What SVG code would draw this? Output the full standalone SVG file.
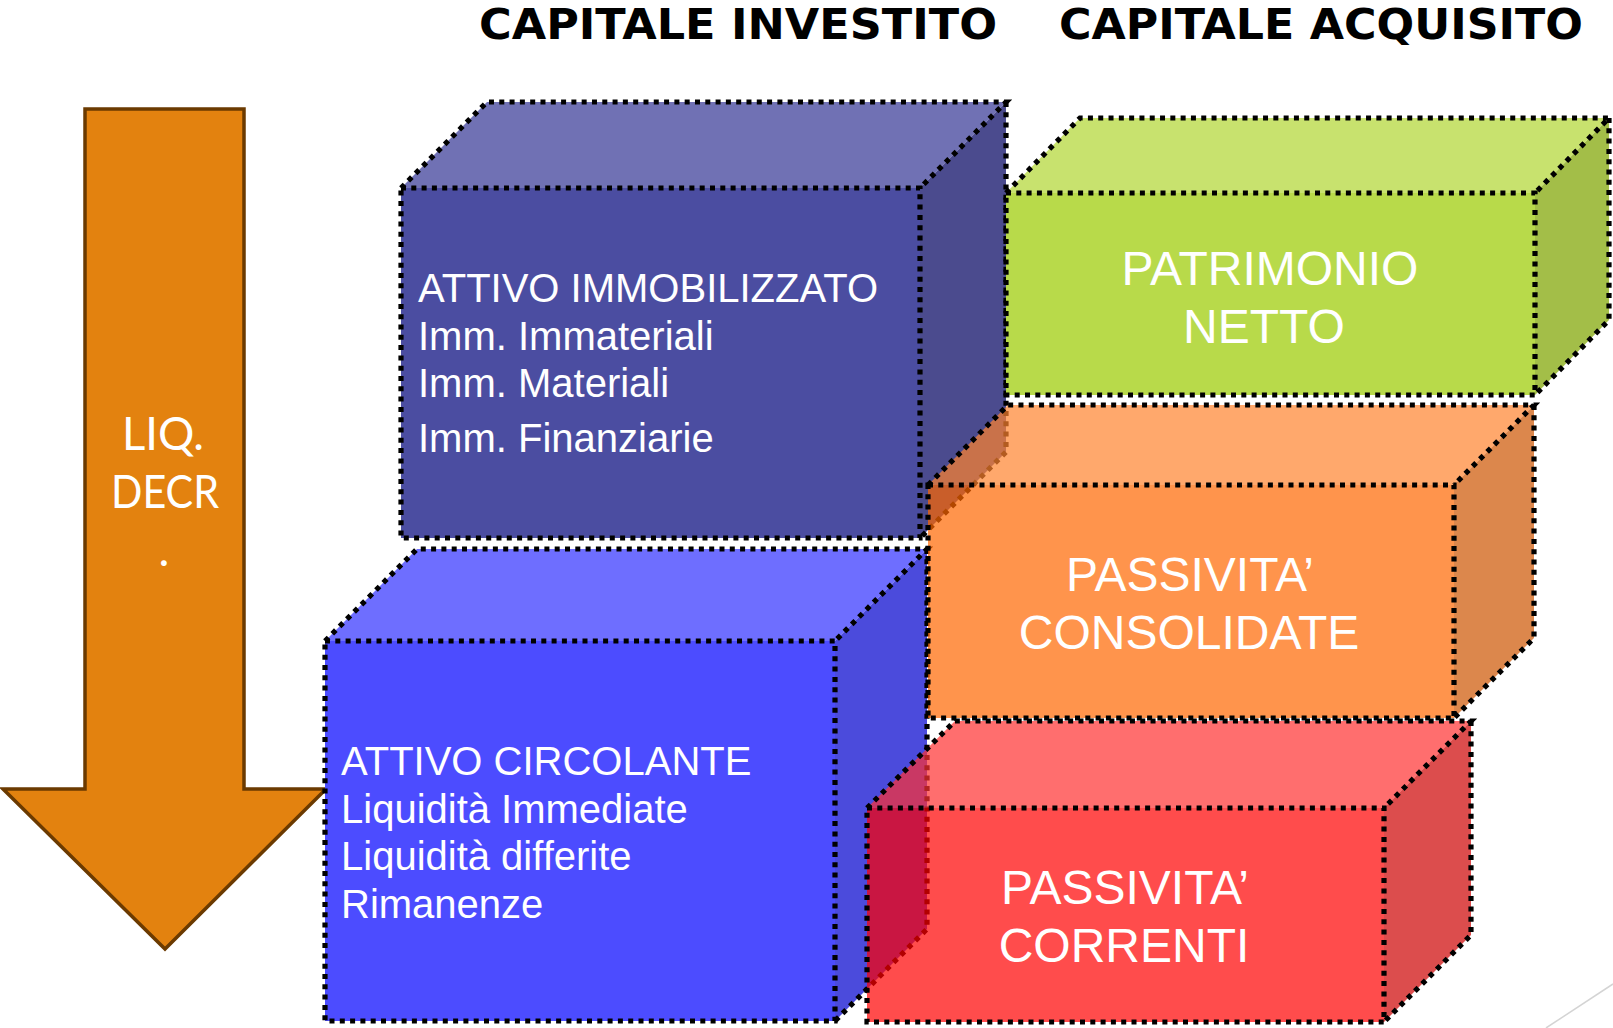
<svg xmlns="http://www.w3.org/2000/svg" width="1613" height="1028" viewBox="0 0 1613 1028">
  <defs>
    <style>
      .edge { fill: none; stroke: #000; stroke-width: 5.2; stroke-dasharray: 5 5.3; stroke-linejoin: miter; }
      .title { font-family: "DejaVu Sans", Verdana, sans-serif; font-weight: bold; font-size: 42px; fill: #000; }
      .lbl { font-family: "Liberation Sans", Arial, sans-serif; font-size: 40px; fill: #fff; }
      .big { font-family: "Liberation Sans", Arial, sans-serif; font-size: 48px; fill: #fff; text-anchor: middle; }
      .arrowtxt { font-family: Lato, "Open Sans", sans-serif; font-size: 46px; fill: #fff; text-anchor: middle; }
    </style>
  </defs>
  <rect width="1613" height="1028" fill="#fff"/>

  <text class="title" x="479" y="39" textLength="518" lengthAdjust="spacingAndGlyphs">CAPITALE INVESTITO</text>
  <text class="title" x="1059" y="39" textLength="524" lengthAdjust="spacingAndGlyphs">CAPITALE ACQUISITO</text>

  <g id="arrow-liquidita">
    <polygon points="85,109 244,109 244,789 326,789 165,949 3,789 85,789" fill="#E3820F" stroke="#6B3A00" stroke-width="3.5" stroke-linejoin="miter"/>
    <text class="arrowtxt" x="163" y="450" textLength="82" lengthAdjust="spacingAndGlyphs">LIQ.</text>
    <text class="arrowtxt" x="165" y="508" textLength="108" lengthAdjust="spacingAndGlyphs">DECR</text>
    <text class="arrowtxt" x="164" y="566">.</text>
  </g>

  <g id="attivo-immobilizzato">
    <polygon points="401,188 487,102 1006,102 920,188" fill="#7071B4"/>
    <polygon points="920,188 1006,102 1006,452 920,538" fill="#4B4B8E"/>
    <rect x="401" y="188" width="519" height="350" fill="#4B4DA1"/>
    <path class="edge" d="M401 188 L487 102 H1006 L920 188"/>
    <path class="edge" d="M1006 102 V452 L920 538"/>
    <rect class="edge" x="401" y="188" width="519" height="350"/>
    <text class="lbl" x="418" y="302">ATTIVO IMMOBILIZZATO</text>
    <text class="lbl" x="418" y="350">Imm. Immateriali</text>
    <text class="lbl" x="418" y="397">Imm. Materiali</text>
    <text class="lbl" x="418" y="452">Imm. Finanziarie</text>
  </g>

  <g id="attivo-circolante">
    <polygon points="325,641 417,549 927,549 835,641" fill="#6E6EFF"/>
    <polygon points="835,641 927,549 927,929 835,1021" fill="#4B4BDC"/>
    <rect x="325" y="641" width="510" height="380" fill="#4C4CFF"/>
    <path class="edge" d="M325 641 L417 549 H927 L835 641"/>
    <path class="edge" d="M927 549 V929 L835 1021"/>
    <rect class="edge" x="325" y="641" width="510" height="380"/>
    <text class="lbl" x="341" y="775">ATTIVO CIRCOLANTE</text>
    <text class="lbl" x="341" y="823">Liquidità Immediate</text>
    <text class="lbl" x="341" y="870">Liquidità differite</text>
    <text class="lbl" x="341" y="918">Rimanenze</text>
  </g>

  <g id="patrimonio-netto">
    <polygon points="1006,193 1080,118 1609,118 1535,193" fill="#C8E26E"/>
    <polygon points="1535,193 1609,118 1609,320 1535,395" fill="#A3BE48"/>
    <rect x="1006" y="193" width="529" height="202" fill="#B8DA4A"/>
    <path class="edge" d="M1006 193 L1080 118 H1609 L1535 193"/>
    <path class="edge" d="M1609 118 V320 L1535 395"/>
    <rect class="edge" x="1006" y="193" width="529" height="202"/>
    <text class="big" x="1270" y="285">PATRIMONIO</text>
    <text class="big" x="1264" y="343">NETTO</text>
  </g>

  <g id="passivita-consolidate">
    <polygon points="928,485 1008,405 1534,405 1454,485" fill="#FF832D" fill-opacity="0.7"/>
    <polygon points="1454,485 1534,405 1534,638 1454,718" fill="#CD5400" fill-opacity="0.7"/>
    <rect x="928" y="485" width="526" height="233" fill="#FF6600" fill-opacity="0.7"/>
    <path class="edge" d="M928 485 L1008 405 H1534 L1454 485"/>
    <path class="edge" d="M1534 405 V638 L1454 718"/>
    <rect class="edge" x="928" y="485" width="526" height="233"/>
    <text class="big" x="1190" y="591">PASSIVITA’</text>
    <text class="big" x="1189" y="649">CONSOLIDATE</text>
  </g>

  <g id="passivita-correnti">
    <polygon points="867,808 955,721 1471,721 1384,808" fill="#FF3030" fill-opacity="0.7"/>
    <polygon points="1384,808 1471,721 1471,935 1384,1022" fill="#CD0202" fill-opacity="0.7"/>
    <rect x="867" y="808" width="517" height="214" fill="#FF0000" fill-opacity="0.7"/>
    <path class="edge" d="M867 808 L955 721 H1471 L1384 808"/>
    <path class="edge" d="M1471 721 V935 L1384 1022"/>
    <rect class="edge" x="867" y="808" width="517" height="214"/>
    <text class="big" x="1125" y="904">PASSIVITA’</text>
    <text class="big" x="1124" y="962">CORRENTI</text>
  </g>

  <g id="connectors">
    <line x1="1546" y1="1028" x2="1613" y2="984" stroke="#D4D4D4" stroke-width="1.5"/>
  </g>
</svg>
